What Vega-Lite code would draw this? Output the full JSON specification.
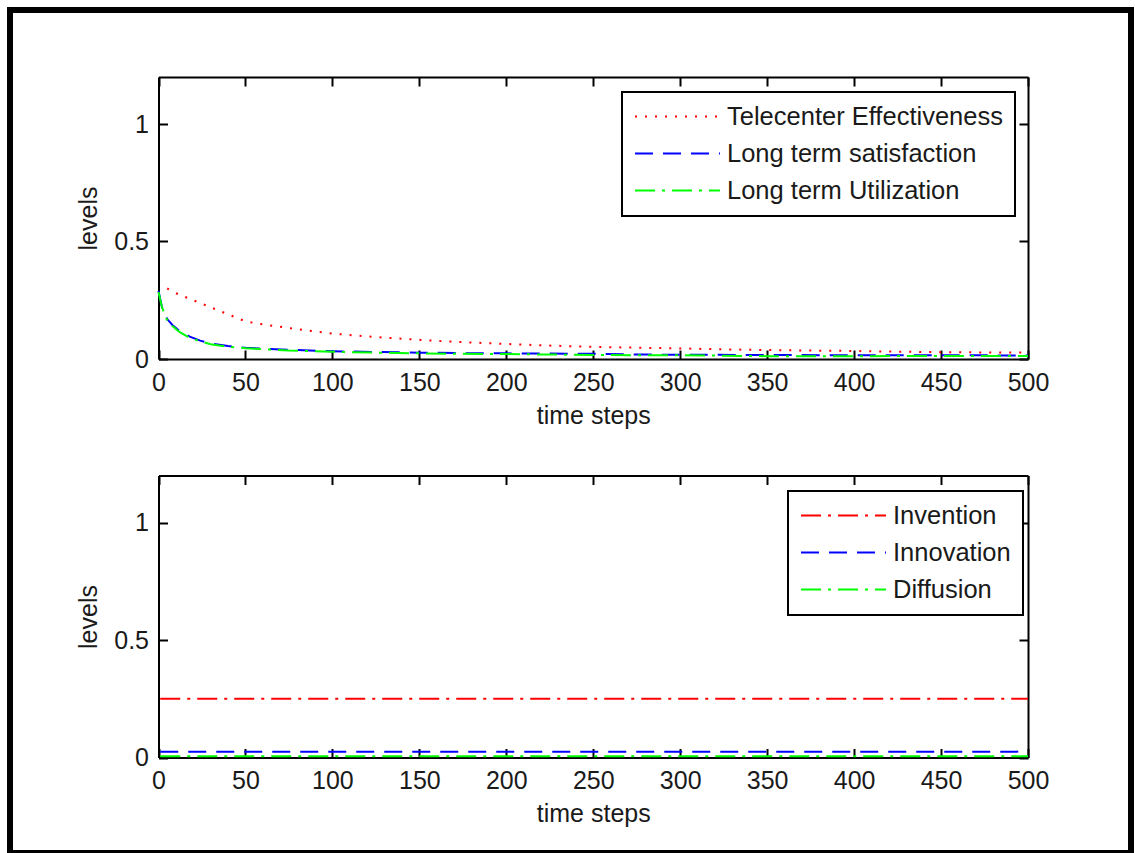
{
  "$schema": "https://vega.github.io/schema/vega-lite/v6.json",
  "width": 1121,
  "height": 843,
  "autosize": {"type": "none"},
  "padding": {"left": 10, "top": 10, "right": 4, "bottom": 0},
  "background": "white",
  "config": {
    "view": {"stroke": "black", "strokeWidth": 6},
    "font": "Liberation Sans",
    "axis": {
      "labelFont": "Liberation Sans", "labelFontSize": 25, "labelColor": "#1a1a1a",
      "titleFont": "Liberation Sans", "titleFontSize": 25, "titleFontWeight": "normal", "titleColor": "#1a1a1a",
      "domainColor": "black", "domainWidth": 2, "tickColor": "black", "tickWidth": 2, "tickSize": -9,
      "grid": false, "labelFlush": false, "labelOverlap": false, "zindex": 1
    },
    "legend": {
      "orient": "none", "title": null, "strokeColor": "black", "strokeWidth": 2, "fillColor": "white",
      "padding": 12, "symbolType": "stroke", "symbolSize": 7225, "symbolStrokeWidth": 2, "clipHeight": 25,
      "labelFont": "Liberation Sans", "labelFontSize": 25.5, "labelColor": "#1a1a1a", "labelOffset": 6,
      "labelLimit": 0, "rowPadding": 11, "zindex": 2
    }
  },
  "datasets": {
    "top": [
      {"t": 5, "value": 0.300, "series": "Telecenter Effectiveness"},
      {"t": 10, "value": 0.280, "series": "Telecenter Effectiveness"},
      {"t": 20, "value": 0.250, "series": "Telecenter Effectiveness"},
      {"t": 30, "value": 0.220, "series": "Telecenter Effectiveness"},
      {"t": 40, "value": 0.190, "series": "Telecenter Effectiveness"},
      {"t": 50, "value": 0.160, "series": "Telecenter Effectiveness"},
      {"t": 60, "value": 0.147, "series": "Telecenter Effectiveness"},
      {"t": 70, "value": 0.137, "series": "Telecenter Effectiveness"},
      {"t": 80, "value": 0.127, "series": "Telecenter Effectiveness"},
      {"t": 90, "value": 0.117, "series": "Telecenter Effectiveness"},
      {"t": 100, "value": 0.108, "series": "Telecenter Effectiveness"},
      {"t": 120, "value": 0.096, "series": "Telecenter Effectiveness"},
      {"t": 140, "value": 0.086, "series": "Telecenter Effectiveness"},
      {"t": 160, "value": 0.077, "series": "Telecenter Effectiveness"},
      {"t": 180, "value": 0.070, "series": "Telecenter Effectiveness"},
      {"t": 200, "value": 0.064, "series": "Telecenter Effectiveness"},
      {"t": 225, "value": 0.057, "series": "Telecenter Effectiveness"},
      {"t": 250, "value": 0.052, "series": "Telecenter Effectiveness"},
      {"t": 275, "value": 0.048, "series": "Telecenter Effectiveness"},
      {"t": 300, "value": 0.045, "series": "Telecenter Effectiveness"},
      {"t": 325, "value": 0.041, "series": "Telecenter Effectiveness"},
      {"t": 350, "value": 0.038, "series": "Telecenter Effectiveness"},
      {"t": 375, "value": 0.036, "series": "Telecenter Effectiveness"},
      {"t": 400, "value": 0.034, "series": "Telecenter Effectiveness"},
      {"t": 425, "value": 0.031, "series": "Telecenter Effectiveness"},
      {"t": 450, "value": 0.029, "series": "Telecenter Effectiveness"},
      {"t": 475, "value": 0.028, "series": "Telecenter Effectiveness"},
      {"t": 500, "value": 0.027, "series": "Telecenter Effectiveness"},
      {"t": 0, "value": 0.290, "series": "Long term satisfaction"},
      {"t": 2, "value": 0.220, "series": "Long term satisfaction"},
      {"t": 5, "value": 0.170, "series": "Long term satisfaction"},
      {"t": 8, "value": 0.145, "series": "Long term satisfaction"},
      {"t": 12, "value": 0.120, "series": "Long term satisfaction"},
      {"t": 18, "value": 0.095, "series": "Long term satisfaction"},
      {"t": 24, "value": 0.078, "series": "Long term satisfaction"},
      {"t": 30, "value": 0.066, "series": "Long term satisfaction"},
      {"t": 40, "value": 0.055, "series": "Long term satisfaction"},
      {"t": 50, "value": 0.048, "series": "Long term satisfaction"},
      {"t": 60, "value": 0.044, "series": "Long term satisfaction"},
      {"t": 75, "value": 0.039, "series": "Long term satisfaction"},
      {"t": 100, "value": 0.033, "series": "Long term satisfaction"},
      {"t": 125, "value": 0.030, "series": "Long term satisfaction"},
      {"t": 150, "value": 0.027, "series": "Long term satisfaction"},
      {"t": 175, "value": 0.025, "series": "Long term satisfaction"},
      {"t": 200, "value": 0.024, "series": "Long term satisfaction"},
      {"t": 225, "value": 0.023, "series": "Long term satisfaction"},
      {"t": 250, "value": 0.022, "series": "Long term satisfaction"},
      {"t": 275, "value": 0.019, "series": "Long term satisfaction"},
      {"t": 300, "value": 0.018, "series": "Long term satisfaction"},
      {"t": 350, "value": 0.017, "series": "Long term satisfaction"},
      {"t": 400, "value": 0.016, "series": "Long term satisfaction"},
      {"t": 450, "value": 0.016, "series": "Long term satisfaction"},
      {"t": 500, "value": 0.015, "series": "Long term satisfaction"},
      {"t": 0, "value": 0.285, "series": "Long term Utilization"},
      {"t": 2, "value": 0.220, "series": "Long term Utilization"},
      {"t": 5, "value": 0.165, "series": "Long term Utilization"},
      {"t": 8, "value": 0.140, "series": "Long term Utilization"},
      {"t": 12, "value": 0.115, "series": "Long term Utilization"},
      {"t": 18, "value": 0.090, "series": "Long term Utilization"},
      {"t": 24, "value": 0.075, "series": "Long term Utilization"},
      {"t": 30, "value": 0.063, "series": "Long term Utilization"},
      {"t": 40, "value": 0.052, "series": "Long term Utilization"},
      {"t": 50, "value": 0.046, "series": "Long term Utilization"},
      {"t": 60, "value": 0.042, "series": "Long term Utilization"},
      {"t": 75, "value": 0.036, "series": "Long term Utilization"},
      {"t": 100, "value": 0.031, "series": "Long term Utilization"},
      {"t": 125, "value": 0.027, "series": "Long term Utilization"},
      {"t": 150, "value": 0.024, "series": "Long term Utilization"},
      {"t": 175, "value": 0.022, "series": "Long term Utilization"},
      {"t": 200, "value": 0.021, "series": "Long term Utilization"},
      {"t": 225, "value": 0.019, "series": "Long term Utilization"},
      {"t": 250, "value": 0.017, "series": "Long term Utilization"},
      {"t": 275, "value": 0.016, "series": "Long term Utilization"},
      {"t": 300, "value": 0.016, "series": "Long term Utilization"},
      {"t": 350, "value": 0.012, "series": "Long term Utilization"},
      {"t": 400, "value": 0.012, "series": "Long term Utilization"},
      {"t": 450, "value": 0.013, "series": "Long term Utilization"},
      {"t": 500, "value": 0.013, "series": "Long term Utilization"}
    ],
    "bottom": [
      {"t": 1, "value": 0.25, "series": "Invention"},
      {"t": 500, "value": 0.25, "series": "Invention"},
      {"t": 1, "value": 0.025, "series": "Innovation"},
      {"t": 500, "value": 0.025, "series": "Innovation"},
      {"t": 1, "value": 0.005, "series": "Diffusion"},
      {"t": 500, "value": 0.005, "series": "Diffusion"}
    ]
  },
  "layer": [
    {
      "data": {"name": "top"},
      "layer": [
        {
          "mark": {"type": "line", "strokeWidth": 2, "clip": false},
          "encoding": {
            "x": {"field": "t", "type": "quantitative",
              "scale": {"domain": [0, 500], "range": [148.5, 1018], "nice": false, "zero": false},
              "axis": {"orient": "bottom", "offset": -494, "title": "time steps", "values": [0,50,100,150,200,250,300,350,400,450,500], "labelPadding": 20, "titlePadding": 8}},
            "y": {"field": "value", "type": "quantitative",
              "scale": {"domain": [0, 1.2], "range": [349, 67], "nice": false},
              "axis": {"orient": "left", "offset": -148.5, "title": "levels", "values": [0, 0.5, 1], "format": "~g", "labelPadding": 19, "titlePadding": 12}},
            "color": {"field": "series", "type": "nominal",
              "scale": {"domain": ["Telecenter Effectiveness", "Long term satisfaction", "Long term Utilization"], "range": ["#ff0000", "#0000ff", "#00ff00"]},
              "legend": {"orient": "none", "legendX": 612, "legendY": 82, "title": null}},
            "strokeDash": {"field": "series", "type": "nominal",
              "scale": {"domain": ["Telecenter Effectiveness", "Long term satisfaction", "Long term Utilization"], "range": [[2, 8], [18, 10], [20, 7, 3, 7]]},
              "legend": {"orient": "none", "legendX": 612, "legendY": 82, "title": null}}
          }
        },
        {
          "mark": {"type": "line", "strokeOpacity": 0},
          "encoding": {
            "x": {"field": "t", "type": "quantitative",
              "scale": {"domain": [0, 500], "range": [148.5, 1018], "nice": false, "zero": false},
              "axis": {"orient": "top", "offset": -67, "title": null, "labels": false, "values": [0,50,100,150,200,250,300,350,400,450,500]}},
            "y": {"field": "value", "type": "quantitative",
              "scale": {"domain": [0, 1.2], "range": [349, 67], "nice": false},
              "axis": {"orient": "right", "offset": -103, "title": null, "labels": false, "values": [0, 0.5, 1]}}
          }
        }
      ],
      "resolve": {"axis": {"x": "independent", "y": "independent"}}
    },
    {
      "data": {"name": "bottom"},
      "layer": [
        {
          "mark": {"type": "line", "strokeWidth": 2, "clip": false},
          "encoding": {
            "x": {"field": "t", "type": "quantitative",
              "scale": {"domain": [0, 500], "range": [148.5, 1018], "nice": false, "zero": false},
              "axis": {"orient": "bottom", "offset": -95.5, "title": "time steps", "values": [0,50,100,150,200,250,300,350,400,450,500], "labelPadding": 20, "titlePadding": 8}},
            "y": {"field": "value", "type": "quantitative",
              "scale": {"domain": [0, 1.2], "range": [747.5, 465.5], "nice": false},
              "axis": {"orient": "left", "offset": -148.5, "title": "levels", "values": [0, 0.5, 1], "format": "~g", "labelPadding": 19, "titlePadding": 12}},
            "color": {"field": "series", "type": "nominal",
              "scale": {"domain": ["Invention", "Innovation", "Diffusion"], "range": ["#ff0000", "#0000ff", "#00ff00"]},
              "legend": {"orient": "none", "legendX": 778, "legendY": 481, "title": null}},
            "strokeDash": {"field": "series", "type": "nominal",
              "scale": {"domain": ["Invention", "Innovation", "Diffusion"], "range": [[20, 7, 3, 7], [18, 10], [20, 7, 3, 7]]},
              "legend": {"orient": "none", "legendX": 778, "legendY": 481, "title": null}}
          }
        },
        {
          "mark": {"type": "line", "strokeOpacity": 0},
          "encoding": {
            "x": {"field": "t", "type": "quantitative",
              "scale": {"domain": [0, 500], "range": [148.5, 1018], "nice": false, "zero": false},
              "axis": {"orient": "top", "offset": -465.5, "title": null, "labels": false, "values": [0,50,100,150,200,250,300,350,400,450,500]}},
            "y": {"field": "value", "type": "quantitative",
              "scale": {"domain": [0, 1.2], "range": [747.5, 465.5], "nice": false},
              "axis": {"orient": "right", "offset": -103, "title": null, "labels": false, "values": [0, 0.5, 1]}}
          }
        }
      ],
      "resolve": {"axis": {"x": "independent", "y": "independent"}}
    }
  ],
  "resolve": {
    "scale": {"x": "independent", "y": "independent", "color": "independent", "strokeDash": "independent"},
    "axis": {"x": "independent", "y": "independent"},
    "legend": {"color": "independent", "strokeDash": "independent"}
  }
}
